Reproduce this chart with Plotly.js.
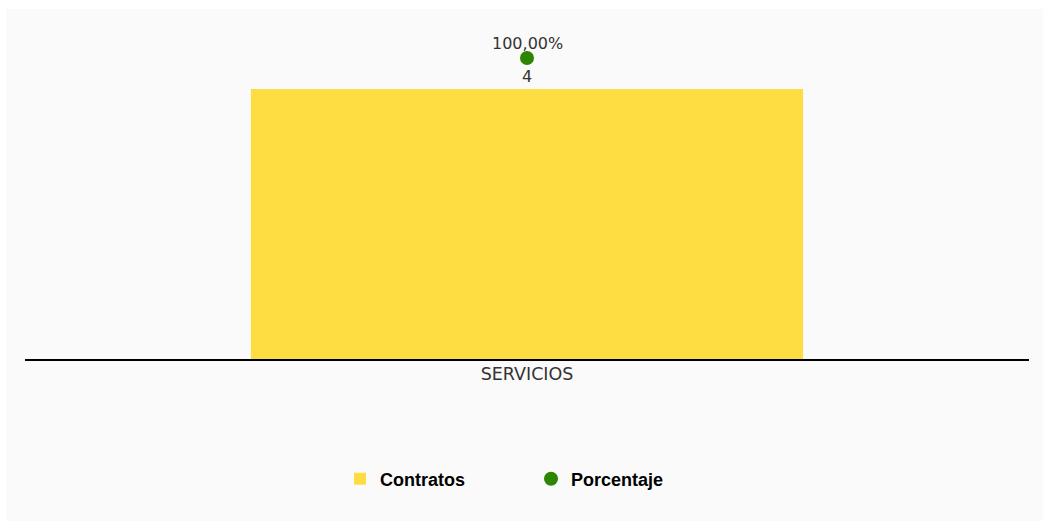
<!DOCTYPE html>
<html>
<head>
<meta charset="utf-8">
<script src="https://cdn.plot.ly/plotly-3.0.1.min.js"></script>
<style>
html, body { margin: 0; padding: 0; background: #ffffff; width: 1049px; height: 524px; overflow: hidden; }
#chart { position: absolute; left: 6px; top: 9px; width: 1037px; height: 512px; }
</style>
</head>
<body>
<div id="chart"></div>
<script>
const categories = ['SERVICIOS'];
const contratos = [4];
const porcentaje = [100];

const labelFont = { family: 'DejaVu Sans, Verdana, sans-serif', size: 16, color: '#333333' };

const traces = [
  {
    type: 'bar',
    name: 'Contratos',
    x: categories,
    y: contratos,
    text: contratos.map(String),
    textposition: 'outside',
    cliponaxis: false,
    textfont: labelFont,
    marker: { color: '#fedd42' },
    width: 0.55,
    yaxis: 'y'
  },
  {
    type: 'scatter',
    mode: 'markers',
    name: 'Porcentaje',
    x: categories,
    y: porcentaje,
    cliponaxis: false,
    marker: { color: '#2e8500', size: 14 },
    yaxis: 'y2'
  }
];

const annotations = categories.map((c, i) => ({
  x: c,
  y: porcentaje[i],
  xref: 'x',
  yref: 'y2',
  text: porcentaje[i].toFixed(2).replace('.', ',') + '%',
  showarrow: false,
  yshift: 14,
  font: labelFont
}));

const layout = {
  width: 1037,
  height: 512,
  paper_bgcolor: '#fafafa',
  plot_bgcolor: '#fafafa',
  separators: ',.',
  margin: { l: 19, r: 14, t: 11, b: 162 },
  showlegend: true,
  annotations: annotations,
  xaxis: {
    showline: true,
    linecolor: '#000000',
    linewidth: 2,
    ticks: '',
    ticklabelstandoff: -2,
    showgrid: false,
    zeroline: false,
    tickfont: { family: 'DejaVu Sans, Verdana, sans-serif', size: 17.5, color: '#333333' }
  },
  yaxis: {
    range: [0, 5.022],
    visible: false,
    showgrid: false,
    zeroline: false,
    fixedrange: true
  },
  yaxis2: {
    range: [0, 112.6],
    overlaying: 'y',
    side: 'right',
    visible: false,
    showgrid: false,
    zeroline: false
  },
  legend: {
    orientation: 'h',
    x: 0.504,
    xanchor: 'center',
    y: -0.354,
    yanchor: 'middle',
    entrywidth: 146,
    font: { family: 'Liberation Sans, Arial, sans-serif', size: 18, color: '#000000', weight: 'bold' },
    bgcolor: 'rgba(0,0,0,0)'
  }
};

Plotly.newPlot('chart', traces, layout, { displayModeBar: false, staticPlot: true });
</script>
</body>
</html>
